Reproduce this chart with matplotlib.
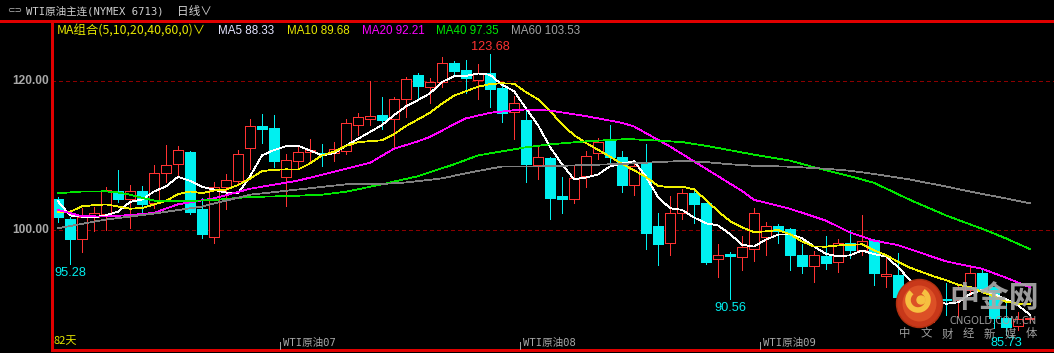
import matplotlib
matplotlib.use('Agg')
import matplotlib.pyplot as plt
import numpy as np
from matplotlib.patches import Rectangle, Ellipse, Arc, Circle

plt.rcParams['font.family'] = ['Noto Sans CJK SC', 'DejaVu Sans']

# ---------------- data ----------------
opens = [104.08, 101.38, 98.68, 101.65, 102.13, 105.20, 104.08, 105.20, 103.62, 107.58,
         108.80, 110.46, 102.77, 99.03, 105.70, 106.59, 110.96, 113.97, 113.70, 107.04,
         109.28, 110.46, 110.36, 110.36, 110.63, 114.14, 114.95, 115.45, 114.87, 117.57,
         120.85, 119.19, 119.87, 122.43, 121.52, 120.18, 121.12, 119.06, 115.90, 114.78,
         108.75, 109.61, 104.52, 104.08, 107.22, 110.28, 111.98, 109.74, 106.04, 108.93,
         100.47, 98.22, 102.27, 104.89, 103.62, 95.98, 96.69, 96.33, 97.33, 98.95,
         100.47, 100.03, 96.56, 95.12, 96.42, 95.65, 98.22, 97.23, 98.58, 93.77,
         93.86, 90.90, 88.70, 89.00, 90.62, 90.49, 91.84, 94.17, 92.20, 88.06,
         87.00, 87.90]
highs = [104.35, 101.65, 102.90, 103.08, 105.74, 108.03, 105.97, 105.87, 108.66, 111.36,
         111.27, 110.63, 104.21, 106.45, 107.49, 110.73, 114.91, 115.59, 115.45, 110.19,
         111.09, 112.17, 111.54, 111.81, 114.87, 115.76, 120.08, 117.84, 117.84, 120.54,
         121.08, 120.45, 123.24, 122.74, 122.87, 122.33, 123.68, 119.64, 118.02, 116.57,
         111.27, 109.82, 107.04, 108.66, 110.63, 112.35, 114.10, 110.63, 109.38, 111.54,
         102.27, 104.52, 105.43, 105.33, 103.62, 98.04, 97.00, 99.12, 102.90, 101.01,
         100.74, 100.16, 98.04, 97.14, 99.12, 98.68, 99.91, 101.96, 98.76, 96.33,
         96.79, 91.30, 90.00, 91.40, 92.74, 92.51, 95.21, 94.85, 92.28, 90.49,
         88.90, 88.30]
lows = [101.05, 95.28, 97.00, 99.84, 100.00, 103.75, 100.24, 102.09, 102.90, 106.41,
        107.13, 102.09, 98.89, 98.22, 102.73, 106.14, 108.12, 111.71, 108.48, 103.17,
        108.20, 109.28, 108.57, 109.28, 110.19, 112.79, 114.14, 113.52, 111.17, 115.22,
        117.57, 117.11, 119.27, 120.72, 118.38, 117.57, 116.57, 114.55, 112.25, 106.45,
        106.86, 101.42, 102.27, 103.62, 105.70, 109.55, 109.11, 105.10, 104.61, 97.41,
        95.17, 96.60, 101.46, 100.92, 95.34, 93.63, 90.56, 94.53, 95.79, 96.52,
        98.22, 94.53, 94.17, 92.96, 94.63, 94.30, 96.11, 96.56, 92.51, 92.22,
        90.22, 88.00, 87.20, 87.50, 88.46, 88.23, 91.17, 91.50, 86.71, 85.73,
        86.40, 87.50]
closes = [101.73, 98.68, 101.73, 102.19, 105.29, 104.16, 105.20, 103.44, 107.58, 108.66,
          110.73, 102.40, 99.43, 105.70, 106.64, 110.15, 113.93, 113.60, 109.28, 109.34,
          110.42, 110.73, 110.19, 110.82, 114.37, 115.14, 115.32, 114.78, 117.57, 120.27,
          119.41, 119.87, 122.43, 121.43, 120.49, 121.08, 119.00, 115.76, 117.03, 108.84,
          109.78, 104.29, 104.08, 106.99, 109.92, 111.85, 109.74, 106.00, 108.57, 99.57,
          98.04, 102.19, 104.89, 103.44, 95.65, 96.56, 96.46, 97.64, 102.19, 100.47,
          99.80, 96.56, 95.12, 96.56, 95.52, 98.14, 97.23, 98.41, 94.09, 93.95,
          90.93, 88.60, 89.10, 90.70, 90.50, 91.97, 94.17, 91.84, 88.02, 86.84,
          87.90, 87.95]
# closes of the days before the window (needed for MA5 / MA10 at the left edge)
prior_closes = [98.26, 94.29, 100.60, 104.25, 106.95, 108.21, 102.56, 102.75, 103.79]

# longer moving averages at selected candles
ma20_idx = [0, 2, 4, 6, 8, 10, 13, 16, 20, 23, 26, 28, 30, 31, 33, 34, 36, 38, 39, 41, 44, 47,
            48, 51, 54, 57, 58, 61, 64, 66, 68, 70, 74, 77, 79, 81]
ma20_val = [102.63, 101.80, 101.75, 101.95, 102.25, 103.40, 104.20, 105.50, 106.60, 107.80,
            109.00, 110.90, 111.90, 112.50, 114.20, 115.00, 115.75, 116.10, 116.20, 116.05,
            115.30, 114.40, 113.90, 111.20, 108.20, 105.20, 104.00, 102.80, 101.20, 99.60,
            98.50, 97.90, 95.70, 94.70, 93.50, 92.21]
ma40_idx = [0, 2, 4, 5, 6, 8, 10, 13, 16, 19, 22, 24, 27, 30, 33, 35, 37, 39, 41, 44, 47, 48,
            50, 52, 54, 56, 58, 61, 63, 66, 68, 71, 74, 77, 79, 81]
ma40_val = [104.89, 105.13, 105.15, 105.00, 104.70, 103.90, 103.80, 103.98, 104.40, 104.50,
            104.70, 105.10, 106.10, 107.20, 108.80, 110.00, 110.55, 111.10, 111.50, 111.90,
            112.17, 112.17, 112.00, 111.80, 111.30, 110.70, 110.10, 109.30, 108.40, 107.20,
            106.30, 104.00, 101.90, 100.10, 98.80, 97.35]
ma60_idx = [0, 4, 8, 12, 16, 20, 24, 27, 29, 32, 34, 37, 40, 44, 47, 50, 52, 54, 56, 58, 61,
            64, 66, 68, 71, 74, 77, 79, 81]
ma60_val = [100.17, 101.35, 102.15, 103.10, 104.70, 105.40, 106.10, 106.15, 106.35, 106.90,
            107.60, 108.50, 108.50, 108.70, 108.85, 109.10, 109.25, 109.10, 108.80, 108.60,
            108.48, 108.20, 107.93, 107.50, 106.75, 105.80, 104.80, 104.20, 103.53]

ma_names = ['MA5', 'MA10', 'MA20', 'MA40', 'MA60']
ma_last = ['88.33', '89.68', '92.21', '97.35', '103.53']

yticks = [100.0, 120.0]
month_labels = ['WTI原油07', 'WTI原油08', 'WTI原油09']
month_start_idx = [19, 39, 59]
extreme_idx = [1, 36, 56, 79]
days_label = '82天'
title_text = 'WTI原油主连(NYMEX 6713)'
period_text = '日线∨'
ma_group_text = 'MA组合(5,10,20,40,60,0)∨'

# ---------------- styling ----------------
RED = '#ff3232'
CYAN = '#00f0f0'
MA_COLORS = ['#ffffff', '#f0f000', '#ff00ff', '#00e600', '#808080']
LEG_COLORS = ['#e4e4ff', '#e6e600', '#ff00ff', '#00e600', '#a0a0a0']
PX = 0.72   # one pixel in points at 100 dpi
LW_MA = 0.55

W, H = 1054, 353
fig = plt.figure(figsize=(W / 100, H / 100), dpi=100, facecolor='black')

L, T, B = 52, 21, 350
ax = fig.add_axes([L / W, 1 - B / H, 1 - L / W, (B - T) / H])
ax.set_facecolor('black')
ax.set_xlim(-0.5, 83.0)
ax.set_ylim(83.74, 128.14)
ax.axis('off')

n = len(closes)
x = np.arange(n)

# grid
for yv in yticks:
    ax.axhline(yv, color='#8c0000', lw=PX, ls=(0, (4, 4)), antialiased=False, zorder=1)

# candles
bw = 0.84
for i in range(n):
    o, h, l, c = opens[i], highs[i], lows[i], closes[i]
    up = c >= o
    col = RED if up else CYAN
    lo_b, hi_b = min(o, c), max(o, c)
    if hi_b - lo_b < 0.12:
        ax.vlines(i, l, h, color=col, lw=PX, antialiased=False, zorder=3)
        ax.hlines((o + c) / 2, i - bw / 2, i + bw / 2, color=col, lw=1.4, antialiased=False, zorder=3)
        continue
    if up:
        ax.vlines(i, hi_b, h, color=col, lw=PX, antialiased=False, zorder=3)
        ax.vlines(i, l, lo_b, color=col, lw=PX, antialiased=False, zorder=3)
        ax.add_patch(Rectangle((i - bw / 2, lo_b), bw, hi_b - lo_b, facecolor='black',
                               edgecolor=col, lw=PX, antialiased=False, zorder=3))
    else:
        ax.vlines(i, l, h, color=col, lw=PX, antialiased=False, zorder=3)
        ax.add_patch(Rectangle((i - bw / 2, lo_b), bw, hi_b - lo_b, facecolor=col,
                               edgecolor=col, lw=0.4, antialiased=False, zorder=3))

# moving averages
allc = np.array(prior_closes + closes)
k0 = len(prior_closes)
ma5 = np.array([allc[k0 + i - 4:k0 + i + 1].mean() for i in range(n)])
ma10 = np.array([allc[k0 + i - 9:k0 + i + 1].mean() for i in range(n)])
ax.plot(x, ma5, color=MA_COLORS[0], lw=LW_MA, antialiased=False, zorder=4)
ax.plot(x, ma10, color=MA_COLORS[1], lw=LW_MA, antialiased=False, zorder=4)
ax.plot(ma20_idx, ma20_val, color=MA_COLORS[2], lw=LW_MA, antialiased=False, zorder=4)
ax.plot(ma40_idx, ma40_val, color=MA_COLORS[3], lw=LW_MA, antialiased=False, zorder=4)
ax.plot(ma60_idx, ma60_val, color=MA_COLORS[4], lw=LW_MA, antialiased=False, zorder=4)

# extreme labels
hi_i = int(np.argmax(highs))
for i in extreme_idx:
    if i == hi_i:
        ax.text(i, highs[i] + 1.0, f'{highs[i]:.2f}', color=RED, fontsize=9.2,
                family=['Liberation Sans', 'DejaVu Sans'], ha='center', va='center', zorder=6)
    else:
        ax.text(i, lows[i] - 1.1, f'{lows[i]:.2f}', color=CYAN, fontsize=9.2,
                family=['Liberation Sans', 'DejaVu Sans'], ha='center', va='center', zorder=6)

# ---------------- overlay in pixel coordinates ----------------
ov = fig.add_axes([0, 0, 1, 1])
ov.set_xlim(0, W)
ov.set_ylim(H, 0)
ov.axis('off')
ov.patch.set_alpha(0)

# frame lines
ov.plot([0, W], [T, T], color='#e00000', lw=1.0, antialiased=False)
ov.plot([L, L], [T, B], color='#e00000', lw=1.0, antialiased=False)
ov.plot([L, W], [B, B], color='#e00000', lw=1.0, antialiased=False)

# header
mono = ['DejaVu Sans Mono', 'Noto Sans CJK SC']
ov.text(7, 11, '⊂⊃', color='#b4b4b4', fontsize=6.5, va='center', ha='left', family=['DejaVu Sans'])
ov.text(26, 11, title_text, color='#d0d0d0', fontsize=7.6, va='center', ha='left', family=mono)
ov.text(177, 11, period_text, color='#d0d0d0', fontsize=8.4, va='center', ha='left')

# MA legend line
ov.text(57, 31, ma_group_text, color='#e6e600', fontsize=8.9, va='center', ha='left')
leg_x = [218, 287, 362, 436, 511]
for xx, nm, val, col in zip(leg_x, ma_names, ma_last, LEG_COLORS):
    ov.text(xx, 31, f'{nm} {val}', color=col, fontsize=8.4, va='center', ha='left',
            family=['Liberation Sans', 'DejaVu Sans'])

# y tick labels
def ypix(v):
    y0, y1 = ax.get_ylim()
    return B - (v - y0) / (y1 - y0) * (B - T)

for yv in yticks:
    ov.text(49, ypix(yv), f'{yv:.2f}', color='#a8a8a8', fontsize=8.6, fontweight='bold',
            va='center', ha='right', family=['Liberation Sans', 'DejaVu Sans'])

# bottom labels
ov.text(53, 341, days_label, color='#e6e600', fontsize=8, va='center', ha='left')
for lab, mi in zip(month_labels, month_start_idx):
    xp = 58 + mi * 12.0 - 6
    ov.plot([xp, xp], [342, 350], color='#a0a0a0', lw=0.7, ls=(0, (1.5, 1)), antialiased=False)
    ov.text(xp + 3, 343, lab, color='#a8a8a8', fontsize=7.6, va='center', ha='left', family=mono)

# watermark
ov.add_patch(Ellipse((919.5, 303.5), 46, 48, facecolor='#c8381a', edgecolor='#b03010', lw=1, zorder=8))
ov.add_patch(Ellipse((919.5, 303.5), 34, 36, facecolor='#dc5026', edgecolor='none', zorder=8))
ov.add_patch(Arc((918, 300), 20, 20, theta1=-60, theta2=230, color='#f6c040', lw=4, zorder=9))
ov.add_patch(Circle((921, 300), 4, color='#f6c040', zorder=9))
ov.text(994, 298, '中金网', color='#a8a8a8', fontsize=21.5, fontweight='bold', va='center', ha='center',
        alpha=0.92, zorder=9)
ov.text(993, 321, 'CNGOLD.COM.CN', color='#a0a0a0', fontsize=7.2, va='center', ha='center',
        family=['DejaVu Sans'], alpha=0.95, zorder=9)
for k, ch in enumerate('中文财经新媒体'):
    ov.text(905 + 21 * k, 334, ch, color='#a0a0a0', fontsize=8.2, va='center', ha='center', zorder=9)

fig.savefig('out.png', dpi=100, facecolor='black')
